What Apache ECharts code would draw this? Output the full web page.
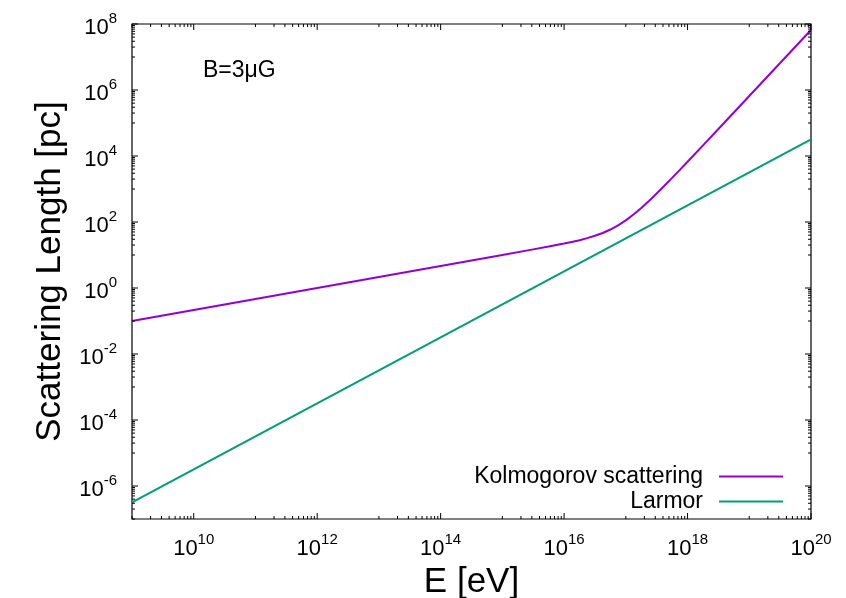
<!DOCTYPE html>
<html><head><meta charset="utf-8">
<script src="https://cdn.jsdelivr.net/npm/echarts@6/dist/echarts.min.js"></script>
<style>html,body{margin:0;padding:0;background:#fff}#c{width:846px;height:598px}</style>
</head><body><div id="c"></div>
<script>
// ---- data (E in eV, lengths in pc) ----
const energyKolmogorov = [1e9, 1e10, 1e11, 1e12, 1e13, 1e14, 1e15, 3.16e15, 5.62e15, 1e16, 1.33e16, 1.78e16,
  2.37e16, 3.16e16, 4.22e16, 5.62e16, 7.5e16, 1e17, 1.33e17, 1.78e17, 2.37e17, 3.16e17, 4.22e17, 5.62e17,
  7.5e17, 1e18, 1.78e18, 3.16e18, 1e19, 3.16e19, 1e20];
const kolmogorov = [0.1, 0.215, 0.464, 1.0, 2.15, 4.64, 10.0, 14.8, 18.0, 22.2, 24.9, 28.0,
  32.4, 38.2, 46.5, 59.2, 79.3, 112, 168, 265, 433, 728, 1249, 2170,
  3802, 6700, 21000, 66000, 6.6e5, 6.6e6, 6.6e7];
const energyLarmor = [1e9, 1e14, 1e17, 1e20];
const larmor = [3.2e-7, 3.2e-2, 32, 3.2e4];
const seriesNames = ['Kolmogorov scattering', 'Larmor'];
const seriesColors = ['#9400d3', '#009e73'];
const xMajorExponents = [10, 12, 14, 16, 18, 20];
const yMajorExponents = [-6, -4, -2, 0, 2, 4, 6, 8];
const minorMultipliers = [1, 2, 3, 4, 5, 6, 7, 8, 9];
const annotation = 'B=3\u03bcG';
const xTitle = 'E [eV]';
const yTitle = 'Scattering Length [pc]';
const X_MIN = 9, X_MAX = 20, Y_MIN = -7, Y_MAX = 8;

const FONT = '"Liberation Sans", Arial, Helvetica, sans-serif';
const lg = Math.log10;

function pairs(xs, ys) { return xs.map((x, i) => [lg(x), lg(ys[i])]); }

function tickValues(majors) {
  const out = [];
  majors.forEach(m => {
    minorMultipliers.forEach(k => out.push([m - 1 + lg(k), 0]));
    out.push([m, 1]);
  });
  return out;
}
const xTicks = tickValues(xMajorExponents);
const yTicks = tickValues(yMajorExponents).map(t => [X_MIN, t[0], t[1]]);

const richLabel = {
  b: { fontSize: 22, fontFamily: FONT, color: '#000', lineHeight: 34 },
  s: { fontSize: 15, fontFamily: FONT, color: '#000', lineHeight: 15, verticalAlign: 'top' }
};
function expLabel(majors) {
  return v => majors.indexOf(Math.round(v)) >= 0 && Math.abs(v - Math.round(v)) < 1e-9
    ? '{b|10}{s|' + Math.round(v) + '}' : '';
}

const tickStyle = { stroke: '#000', lineWidth: 1 };

const chart = echarts.init(document.getElementById('c'), null, { renderer: 'canvas' });
chart.setOption({
  animation: false,
  backgroundColor: '#fff',
  grid: { left: 132, top: 24, width: 679, height: 495, containLabel: false, outerBoundsMode: 'none',
    show: true, borderColor: '#000', borderWidth: 1.2, backgroundColor: 'transparent' },
  xAxis: {
    type: 'value', min: X_MIN, max: X_MAX, interval: 1,
    axisLine: { show: false }, axisTick: { show: false }, splitLine: { show: false },
    axisLabel: { margin: 13, formatter: expLabel(xMajorExponents), rich: richLabel },
    name: xTitle, nameLocation: 'middle', nameGap: 38,
    nameTextStyle: { fontSize: 35, fontFamily: FONT, color: '#000' }
  },
  yAxis: {
    type: 'value', min: Y_MIN, max: Y_MAX, interval: 1,
    axisLine: { show: false }, axisTick: { show: false }, splitLine: { show: false },
    axisLabel: { margin: 15, padding: [8, 0, 0, 0], formatter: expLabel(yMajorExponents), rich: richLabel },
    name: yTitle, nameLocation: 'middle', nameGap: 64,
    nameTextStyle: { fontSize: 35, fontFamily: FONT, color: '#000' }
  },
  legend: [
    { data: [seriesNames[0]], right: 63, top: 465, padding: 0, align: 'right', icon: 'rect', itemWidth: 64, itemHeight: 2,
      textStyle: { fontSize: 23, fontFamily: FONT, color: '#000', padding: [0, 11, 0, 0] } },
    { data: [seriesNames[1]], right: 63, top: 490, padding: 0, align: 'right', icon: 'rect', itemWidth: 64, itemHeight: 2,
      textStyle: { fontSize: 23, fontFamily: FONT, color: '#000', padding: [0, 11, 0, 0] } }
  ],
  graphic: [
    { type: 'text', left: 203, top: 59, style: { text: annotation, fontSize: 23, fontFamily: FONT, fill: '#000' } }
  ],
  series: [
    { name: seriesNames[0], type: 'line', data: pairs(energyKolmogorov, kolmogorov), showSymbol: false,
      color: seriesColors[0], lineStyle: { width: 2, color: seriesColors[0] }, z: 3 },
    { name: seriesNames[1], type: 'line', data: pairs(energyLarmor, larmor), showSymbol: false,
      color: seriesColors[1], lineStyle: { width: 2, color: seriesColors[1] }, z: 3 },
    { type: 'custom', silent: true, data: xTicks, encode: { x: 0, y: 1 }, z: 5,
      renderItem(params, api) {
        const v = api.value(0), len = api.value(1) ? 6 : 3;
        const pb = api.coord([v, Y_MIN]), pt = api.coord([v, Y_MAX]);
        return { type: 'group', children: [
          { type: 'line', shape: { x1: pb[0], y1: pb[1], x2: pb[0], y2: pb[1] - len }, style: tickStyle },
          { type: 'line', shape: { x1: pt[0], y1: pt[1], x2: pt[0], y2: pt[1] + len }, style: tickStyle }
        ] };
      } },
    { type: 'custom', silent: true, data: yTicks, encode: { x: 0, y: 1 }, z: 5,
      renderItem(params, api) {
        const v = api.value(1), len = api.value(2) ? 6 : 3;
        const pl = api.coord([X_MIN, v]), pr = api.coord([X_MAX, v]);
        return { type: 'group', children: [
          { type: 'line', shape: { x1: pl[0], y1: pl[1], x2: pl[0] + len, y2: pl[1] }, style: tickStyle },
          { type: 'line', shape: { x1: pr[0], y1: pr[1], x2: pr[0] - len, y2: pr[1] }, style: tickStyle }
        ] };
      } }
  ]
});
</script></body></html>
